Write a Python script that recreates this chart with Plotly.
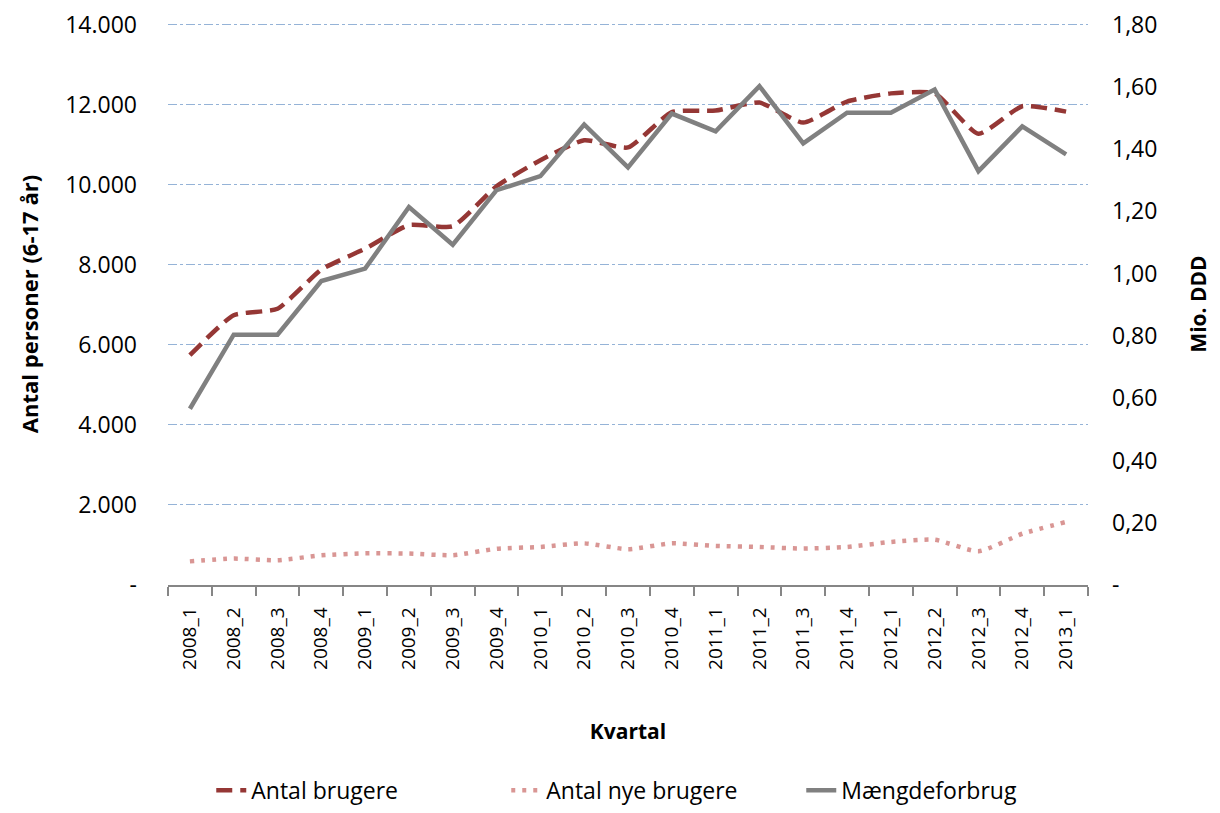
import plotly.graph_objects as go

kvartaler = ["2008_1","2008_2","2008_3","2008_4","2009_1","2009_2","2009_3","2009_4",
             "2010_1","2010_2","2010_3","2010_4","2011_1","2011_2","2011_3","2011_4",
             "2012_1","2012_2","2012_3","2012_4","2013_1"]
antal_brugere = [5740, 6740, 6900, 7880, 8400, 8990, 8960, 9960, 10610, 11110, 10930,
                 11810, 11850, 12050, 11550, 12075, 12280, 12280, 11270, 11960, 11825]
antal_nye_brugere = [590, 660, 620, 740, 790, 785, 745, 905, 950, 1040, 895,
                     1040, 975, 950, 910, 950, 1075, 1130, 845, 1280, 1575]
maengdeforbrug = [0.566, 0.804, 0.804, 0.976, 1.016, 1.214, 1.093, 1.268, 1.313, 1.479, 1.341,
                  1.514, 1.457, 1.602, 1.418, 1.517, 1.517, 1.591, 1.329, 1.473, 1.383]

left_ticks = [0, 2000, 4000, 6000, 8000, 10000, 12000, 14000]
left_ticktext = ["-", "2.000", "4.000", "6.000", "8.000", "10.000", "12.000", "14.000"]
right_ticks = [0, 0.2, 0.4, 0.6, 0.8, 1.0, 1.2, 1.4, 1.6, 1.8]
right_ticktext = ["-", "0,20", "0,40", "0,60", "0,80", "1,00", "1,20", "1,40", "1,60", "1,80"]

LEFT_MAX = 14000
RIGHT_MAX = 1.8
PAD = 1.0027  # small headroom so the top gridline is drawn

FONT = "Open Sans"

fig = go.Figure()
fig.add_trace(go.Scatter(x=kvartaler, y=antal_brugere, name="Antal brugere", mode="lines",
                         line=dict(color="#953735", width=4.5, dash="16px,8px", shape="spline", smoothing=0.5)))
fig.add_trace(go.Scatter(x=kvartaler, y=antal_nye_brugere, name="Antal nye brugere", mode="lines",
                         line=dict(color="#D99694", width=4.5, dash="4px,7px", shape="spline", smoothing=0.6)))
fig.add_trace(go.Scatter(x=kvartaler, y=maengdeforbrug, name="Mængdeforbrug", mode="lines",
                         line=dict(color="#808080", width=4.5), yaxis="y2"))

fig.update_layout(
    width=1220, height=813,
    margin=dict(l=168, r=132, t=23, b=228),
    paper_bgcolor="white", plot_bgcolor="white",
    font=dict(family=FONT, size=23, color="#000000"),
    separators=",.",
    xaxis=dict(
        type="category", tickangle=-90, showgrid=False, automargin=False,
        showline=True, linecolor="#868686", linewidth=1.5,
        ticks="outside", tickson="boundaries", ticklen=9, tickcolor="#868686", tickwidth=1.5,
        tickfont=dict(size=19), ticklabelstandoff=13,
        title=dict(text="<b>Kvartal</b>", font=dict(size=21), standoff=55),
        range=[-0.5, 20.5],
    ),
    yaxis=dict(
        range=[0, LEFT_MAX * PAD], tickvals=left_ticks, ticktext=left_ticktext, automargin=False,
        showgrid=True, gridcolor="#95B3D7", gridwidth=1.3, griddash="dashdot",
        zeroline=False, showline=False, ticks="", ticklabelstandoff=30,
        tickfont=dict(size=23),
        title=dict(text="<b>Antal personer (6-17 år)</b>", font=dict(size=22), standoff=20),
    ),
    yaxis2=dict(
        range=[0, RIGHT_MAX * PAD], tickvals=right_ticks, ticktext=right_ticktext, automargin=False,
        overlaying="y", side="right", showgrid=False, zeroline=False, showline=False,
        ticks="", ticklabelstandoff=23, tickfont=dict(size=23),
        title=dict(text="<b>Mio. DDD</b>", font=dict(size=21), standoff=34),
    ),
    legend=dict(orientation="h", x=0.528, xanchor="center", xref="paper",
                yref="container", y=0.028, yanchor="middle",
                font=dict(size=23), entrywidth=250, traceorder="normal"),
    showlegend=True,
)

fig.write_html("out.html", config={"displayModeBar": False},
               post_script="document.body.style.margin='0px';")
